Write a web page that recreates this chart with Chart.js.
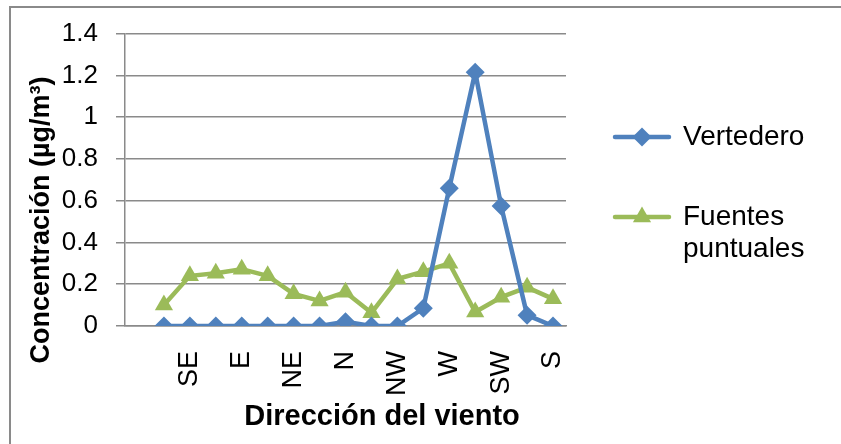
<!DOCTYPE html>
<html>
<head>
<meta charset="utf-8">
<script src="https://cdn.jsdelivr.net/npm/chart.js@4/dist/chart.umd.min.js"></script>
<style>
  html, body { margin: 0; padding: 0; background: #ffffff; }
  #wrap { width: 841px; height: 444px; position: relative; }
</style>
</head>
<body>
<div id="wrap"><canvas id="chart" width="841" height="444"></canvas></div>
<script>
// Wind-direction categories (only every other one carries a label)
const directions = ['', '', 'SE', '', 'E', '', 'NE', '', 'N', '', 'NW', '', 'W', '', 'SW', '', 'S'];

// Concentration (µg/m³) per wind direction
const vertedero        = [null, 0, 0, 0, 0, 0, 0, 0, 0.02, 0, 0, 0.085, 0.66, 1.215, 0.575, 0.052, 0];
const fuentesPuntuales = [null, 0.10, 0.24, 0.253, 0.272, 0.24, 0.154, 0.12, 0.162, 0.063, 0.225, 0.26, 0.30, 0.067, 0.138, 0.185, 0.13];

const seriesNames = ['Vertedero', 'Fuentes puntuales'];
const legendLines = [['Vertedero'], ['Fuentes', 'puntuales']];

// Value axis
const yMin = 0;
const yMax = 1.4;
const yStep = 0.2;

const xTitle = 'Dirección del viento';
const yTitle = 'Concentración (µg/m³)';

const FONT = "'Liberation Sans', Arial, sans-serif";
const BLUE = '#4F81BD';
const GREEN = '#9BBB59';
const GRID = '#8a8a8a';

// Outer chart frame (top and left edges)
const framePlugin = {
  id: 'frame',
  beforeDraw(chart) {
    const ctx = chart.ctx;
    ctx.save();
    ctx.strokeStyle = '#8a8a8a';
    ctx.lineWidth = 2;
    ctx.beginPath();
    ctx.moveTo(10, 444);
    ctx.lineTo(10, 7);
    ctx.lineTo(841, 7);
    ctx.stroke();
    ctx.restore();
  }
};

// Axis titles
const titlesPlugin = {
  id: 'axisTitles',
  afterDraw(chart) {
    const ctx = chart.ctx;
    ctx.save();
    ctx.fillStyle = '#000';
    ctx.textAlign = 'center';
    ctx.textBaseline = 'middle';
    ctx.font = 'bold 29px ' + FONT;
    ctx.fillText(xTitle, 382, 417);
    ctx.translate(42, 220);
    ctx.rotate(-Math.PI / 2);
    ctx.font = 'bold 27px ' + FONT;
    ctx.fillText(yTitle, 0, 0);
    ctx.restore();
  }
};

// Legend on the right, second entry wrapped on two lines
const legendPlugin = {
  id: 'sideLegend',
  afterDraw(chart) {
    const ctx = chart.ctx;
    const rows = [137, 217];
    ctx.save();
    chart.data.datasets.forEach((ds, i) => {
      const y = rows[i];
      ctx.strokeStyle = ds.borderColor;
      ctx.lineWidth = 4.5;
      ctx.lineCap = 'round';
      ctx.beginPath();
      ctx.moveTo(615, y);
      ctx.lineTo(669, y);
      ctx.stroke();
      ctx.fillStyle = ds.backgroundColor;
      Chart.helpers.drawPoint(ctx, {
        pointStyle: ds.pointStyle, radius: ds.pointRadius, rotation: 0, borderWidth: 0
      }, 642, y);
      ctx.fillStyle = '#000';
      ctx.font = '28px ' + FONT;
      ctx.textAlign = 'left';
      ctx.textBaseline = 'middle';
      legendLines[i].forEach((line, k) => ctx.fillText(line, 683, y + k * 32));
    });
    ctx.restore();
  }
};

new Chart(document.getElementById('chart'), {
  type: 'line',
  data: {
    labels: directions,
    datasets: [
      {
        label: seriesNames[0],
        data: vertedero,
        borderColor: BLUE,
        backgroundColor: BLUE,
        borderWidth: 4.5,
        pointStyle: 'rectRot',
        pointRadius: 9.5,
        pointBorderWidth: 0,
        tension: 0,
        borderJoinStyle: 'round'
      },
      {
        label: seriesNames[1],
        data: fuentesPuntuales,
        borderColor: GREEN,
        backgroundColor: GREEN,
        borderWidth: 4.5,
        pointStyle: 'triangle',
        pointRadius: 10.5,
        pointBorderWidth: 0,
        tension: 0,
        borderJoinStyle: 'round'
      }
    ]
  },
  options: {
    responsive: false,
    animation: false,
    devicePixelRatio: 1,
    layout: { padding: { left: 0, top: 29, right: 275, bottom: 0 } },
    plugins: {
      legend: { display: false },
      tooltip: { enabled: false }
    },
    scales: {
      x: {
        offset: true,
        grid: { display: false, drawTicks: false },
        border: { display: true, color: GRID, width: 1.5 },
        ticks: {
          autoSkip: false,
          minRotation: 90,
          maxRotation: 90,
          padding: 25,
          color: '#000',
          font: { family: FONT, size: 27 }
        },
        afterFit(scale) { scale.height = 118; }
      },
      y: {
        min: yMin,
        max: yMax,
        grid: { color: GRID, lineWidth: 1.5, tickLength: 9 },
        border: { display: true, color: GRID, width: 1.5 },
        ticks: {
          stepSize: yStep,
          padding: 18,
          color: '#000',
          font: { family: FONT, size: 26 },
          callback: (v) => String(Number(v.toFixed(1)))
        },
        afterFit(scale) { scale.width = 125; }
      }
    }
  },
  plugins: [framePlugin, titlesPlugin, legendPlugin]
});
</script>
</body>
</html>
